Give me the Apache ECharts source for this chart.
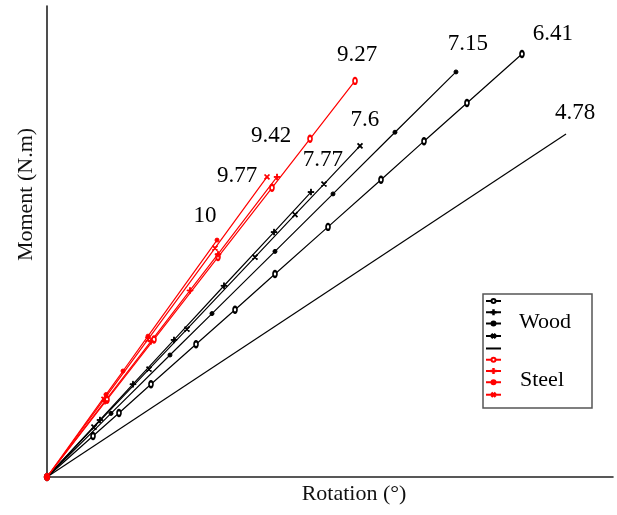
<!DOCTYPE html>
<html>
<head>
<meta charset="utf-8">
<script src="https://cdn.jsdelivr.net/npm/echarts@6/dist/echarts.min.js"></script>
<style>
  html, body { margin: 0; padding: 0; background: #fff; }
  #chart { width: 617px; height: 515px; }
</style>
</head>
<body>
<div id="chart"></div>
<script>
// Moment–rotation curves, [rotation, moment] pairs
const wood641 = [[0,0],[0.813,8.7],[1.272,13.6],[1.837,19.7],[2.633,28.2],[3.322,35.5],[4.028,43.1],[4.965,53.1],[5.901,63.1],[6.661,71.3],[7.420,79.4],[8.392,89.8]];
const wood715 = [[0,0],[1.131,13.5],[2.173,25.9],[2.915,34.7],[4.028,47.9],[5.053,60.1],[6.148,73.2],[7.226,86.0]];
const wood760 = [[0,0],[0.830,10.6],[1.802,22.9],[2.473,31.4],[3.675,46.7],[4.382,55.7],[4.894,62.2],[5.530,70.3]];
const wood777 = [[0,0],[0.936,12.1],[1.519,19.7],[2.244,29.1],[3.127,40.6],[4.011,52.0],[4.664,60.5]];
const wood478 = [[0,0],[9.170,72.8]];
const steel927 = [[0,0],[1.060,16.4],[1.890,29.2],[3.021,46.7],[3.975,61.4],[4.647,71.8],[5.442,84.1]];
const steel942 = [[0,0],[1.025,16.1],[1.837,28.8],[2.527,39.6],[3.021,47.3],[4.064,63.7]];
const steel977 = [[0,0],[1.007,16.5],[1.784,29.2],[2.968,48.6],[3.887,63.7]];
const steel1000 = [[0,0],[1.042,17.5],[1.343,22.5],[1.784,29.9],[3.004,50.3]];

// End-of-curve tags
const woodTags = ['6.41', '7.15', '7.6', '7.77', '4.78'];
const steelTags = ['9.27', '9.42', '9.77', '10'];
const groupNames = ['Wood', 'Steel'];

const FONT = '"Liberation Serif", "DejaVu Serif", serif';
const PLUS = 'path://M0,4.4H10V5.6H0Z M4.4,0H5.6V10H4.4Z';
const TAG_STYLE = { color: '#000', fontFamily: FONT, fontSize: 23 };

function curve(name, pts, color, symbol, size, tag, offset, rotate) {
  const last = pts.length - 1;
  const s = {
    name: name,
    type: 'line',
    symbol: symbol,
    symbolSize: size,
    symbolRotate: rotate || 0,
    lineStyle: { color: color, width: 1.2 },
    itemStyle: { color: color, borderColor: color, borderWidth: 1 },
    emphasis: { disabled: true },
    animation: false
  };
  if (symbol === 'none') {
    // plain curve: tag drawn as the series' end label
    s.data = pts;
    s.endLabel = Object.assign({
      show: true, formatter: tag, distance: 0, offset: offset,
      align: 'center', verticalAlign: 'middle'
    }, TAG_STYLE);
  } else {
    s.data = pts.map((p, i) => i === last ? {
      value: p,
      label: Object.assign({ show: true, formatter: tag, position: 'inside', offset: offset }, TAG_STYLE)
    } : p);
  }
  return s;
}

const BLACK = '#000000';
const RED = '#ff0000';

const series = [
  curve('W1', wood641, BLACK, 'emptyCircle', [4, 6], woodTags[0], [31, -20]),
  curve('W2', wood777, BLACK, PLUS, 6, woodTags[3], [12, -32]),
  curve('W3', wood715, BLACK, 'circle', 4, woodTags[1], [12, -28]),
  curve('W4', wood760, BLACK, PLUS, 6, woodTags[2], [5, -26], 45),
  curve('W5', wood478, BLACK, 'none', 0, woodTags[4], [9, -21]),
  curve('S1', steel927, RED, 'emptyCircle', [4, 6], steelTags[0], [2, -26]),
  curve('S2', steel942, RED, PLUS, 6, steelTags[1], [-6, -41]),
  curve('S3', steel1000, RED, 'circle', 4, steelTags[3], [-12, -24]),
  curve('S4', steel977, RED, PLUS, 6, steelTags[2], [-30, -1], 45)
];

const chart = echarts.init(document.getElementById('chart'), null, { renderer: 'canvas' });
chart.setOption({
  backgroundColor: '#fff',
  animation: false,
  grid: { left: 47, right: 4, top: 6, bottom: 38 },
  xAxis: {
    type: 'value', min: 0, max: 10,
    name: 'Rotation (°)', nameLocation: 'middle', nameGap: 6,
    nameTextStyle: { fontFamily: FONT, fontSize: 22, color: '#111', padding: [0, 0, 0, 48] },
    axisLine: { show: true, lineStyle: { color: '#222', width: 1.6 } },
    axisTick: { show: false }, axisLabel: { show: false }, splitLine: { show: false }
  },
  yAxis: {
    type: 'value', min: 0, max: 100,
    name: 'Moment (N.m)', nameLocation: 'middle', nameGap: 10, nameRotate: 90,
    nameTextStyle: { fontFamily: FONT, fontSize: 22, color: '#111', padding: [0, 0, 0, 94] },
    axisLine: { show: true, lineStyle: { color: '#222', width: 1.6 } },
    axisTick: { show: false }, axisLabel: { show: false }, splitLine: { show: false }
  },
  legend: {
    orient: 'vertical', left: 483, top: 294,
    padding: [4, 86, 9, 2],
    itemWidth: 15, itemHeight: 5, itemGap: 5.25,
    borderColor: '#555', borderWidth: 1.5,
    selectedMode: false,
    formatter: () => '',
    textStyle: { fontSize: 6, lineHeight: 6 },
    // the plain curve shows a bare line in the legend
    data: series.map(s => s.name === 'W5'
      ? { name: s.name, itemStyle: { color: 'transparent', borderColor: 'transparent', opacity: 0 } }
      : s.name)
  },
  graphic: [
    { type: 'text', left: 519, top: 311, style: { text: groupNames[0], font: '22px ' + FONT, fill: '#000' } },
    { type: 'text', left: 520, top: 369, style: { text: groupNames[1], font: '22px ' + FONT, fill: '#000' } }
  ],
  series: series
});
</script>
</body>
</html>
